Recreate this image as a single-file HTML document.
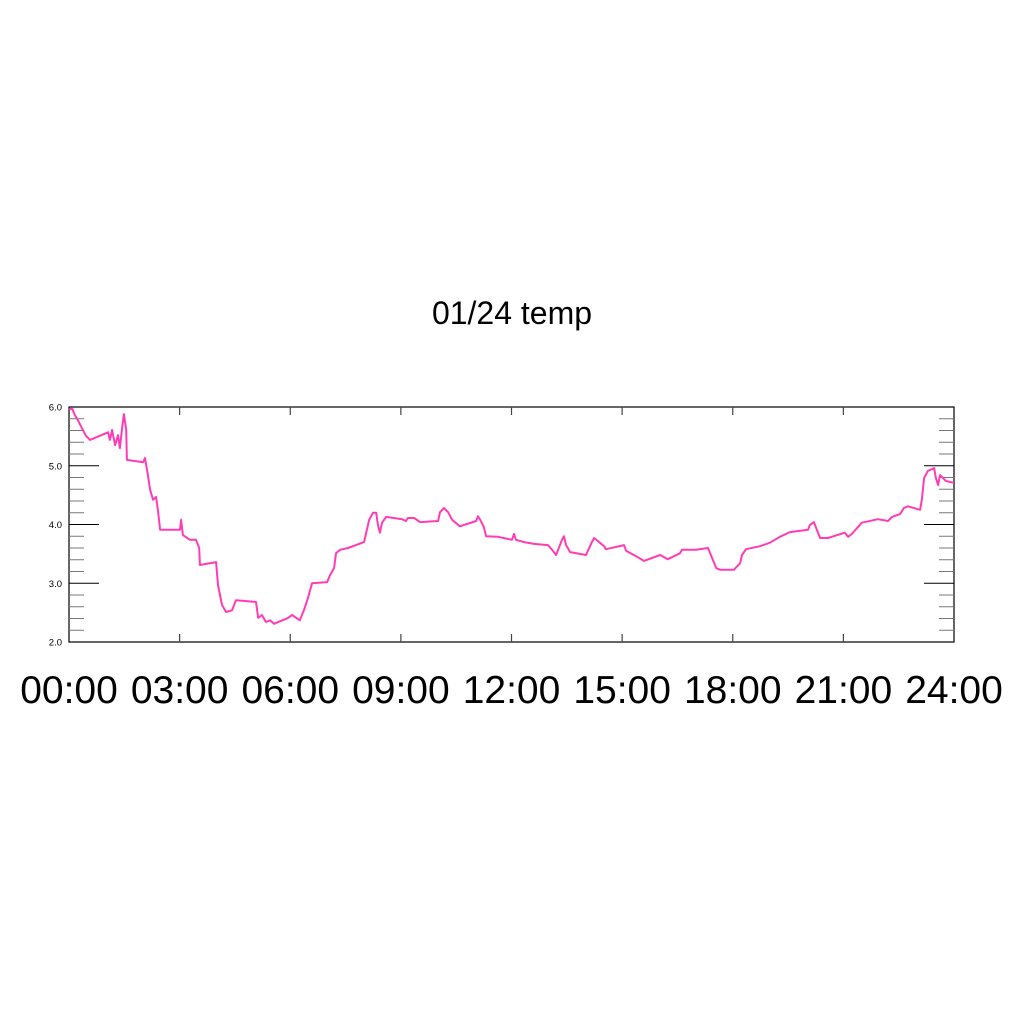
<!DOCTYPE html>
<html><head><meta charset="utf-8"><style>
html,body{margin:0;padding:0;background:#fff;width:1024px;height:1024px;overflow:hidden}
svg text{font-family:"Liberation Sans",sans-serif}
</style></head><body>
<svg id="chart" width="1024" height="1024" viewBox="0 0 1024 1024" xmlns="http://www.w3.org/2000/svg">
<rect width="1024" height="1024" fill="#fff"/>
<text x="512" y="324" font-size="32" text-anchor="middle" fill="#000">01/24 temp</text>
<g id="axes"></g>
<polyline id="series" fill="none" stroke="#ff3cb4" stroke-width="2" stroke-linejoin="round"/>
</svg>
<script>
const hours=[0.00,0.08,0.16,0.24,0.35,0.46,0.57,1.06,1.11,1.17,1.25,1.33,1.38,1.44,1.49,1.55,1.57,2.01,2.06,2.14,2.20,2.28,2.36,2.41,2.47,3.01,3.04,3.09,3.28,3.44,3.53,3.55,3.99,4.04,4.15,4.26,4.42,4.53,5.07,5.13,5.23,5.34,5.45,5.56,5.94,6.05,6.26,6.37,6.48,6.59,7.00,7.08,7.19,7.24,7.35,7.57,8.00,8.14,8.24,8.33,8.38,8.43,8.49,8.60,9.03,9.14,9.19,9.36,9.52,10.01,10.06,10.17,10.28,10.39,10.60,11.04,11.09,11.15,11.25,11.31,11.63,12.01,12.07,12.12,12.34,12.61,12.99,13.10,13.21,13.37,13.42,13.48,13.59,14.02,14.18,14.24,14.51,14.56,15.05,15.11,15.38,15.59,16.03,16.24,16.57,16.62,17.00,17.33,17.44,17.55,17.65,18.03,18.20,18.25,18.36,18.74,19.01,19.28,19.55,20.04,20.09,20.20,20.37,20.58,21.04,21.13,21.23,21.50,21.94,22.21,22.32,22.54,22.64,22.75,23.08,23.13,23.19,23.29,23.46,23.51,23.57,23.62,23.78,24.00];
const temps=[5.95,5.98,5.86,5.78,5.64,5.51,5.44,5.57,5.44,5.61,5.35,5.52,5.30,5.64,5.88,5.61,5.10,5.06,5.13,4.84,4.59,4.42,4.47,4.25,3.91,3.91,4.08,3.82,3.74,3.74,3.60,3.31,3.36,2.97,2.63,2.51,2.54,2.71,2.68,2.41,2.46,2.34,2.37,2.31,2.41,2.46,2.37,2.54,2.75,3.00,3.02,3.14,3.26,3.51,3.57,3.60,3.70,4.08,4.20,4.20,3.99,3.86,4.03,4.13,4.09,4.06,4.11,4.11,4.04,4.06,4.21,4.28,4.21,4.08,3.97,4.06,4.14,4.08,3.96,3.80,3.79,3.74,3.84,3.74,3.70,3.67,3.65,3.57,3.48,3.74,3.80,3.65,3.53,3.48,3.70,3.77,3.63,3.58,3.65,3.55,3.46,3.38,3.48,3.41,3.51,3.57,3.57,3.60,3.43,3.26,3.23,3.23,3.34,3.48,3.58,3.63,3.69,3.79,3.87,3.91,3.99,4.04,3.77,3.77,3.86,3.79,3.84,4.03,4.09,4.06,4.13,4.18,4.28,4.31,4.25,4.43,4.79,4.91,4.96,4.79,4.67,4.84,4.74,4.71];
const xTickLabels=["00:00","03:00","06:00","09:00","12:00","15:00","18:00","21:00","24:00"];
const yTickLabels=["2.0","3.0","4.0","5.0","6.0"];
const L=69,R=954,T=407,B=642;
const xs=h=>L+(R-L)*h/24;
const ys=v=>B-(B-T)*(v-2)/4;
const NS="http://www.w3.org/2000/svg";
const ax=document.getElementById('axes');
function mk(tag,attrs){const e=document.createElementNS(NS,tag);for(const k in attrs)e.setAttribute(k,attrs[k]);ax.appendChild(e);return e;}
const frame=mk('rect',{x:L,y:T,width:R-L,height:B-T,fill:'none',stroke:'#000','stroke-width':1.2});


for(let i=0;i<xTickLabels.length;i++){
  const x=xs(i*3);
  if(i>0&&i<xTickLabels.length-1){
    const t1=mk('line',{x1:x,y1:B,x2:x,y2:B-8,stroke:'#444','stroke-width':1.2});
    
    
    const t2=mk('line',{x1:x,y1:T,x2:x,y2:T+8,stroke:'#444','stroke-width':1.2});
    
    
  }
  const tx=mk('text',{x:x,y:703,'font-size':39,'text-anchor':'middle',fill:'#000'});
  tx.textContent=xTickLabels[i];
  
  
}
for(let v=2;v<=6.001;v+=0.2){
  const y=ys(v);
  const major=Math.abs(v-Math.round(v))<0.01;
  const len=major?30:15;
  if(v>2.01&&v<5.99){
    const a=mk('line',{x1:L,y1:y,x2:L+len,y2:y,stroke:major?'#000':'#777','stroke-width':1});
    
    
    const b=mk('line',{x1:R,y1:y,x2:R-len,y2:y,stroke:major?'#000':'#777','stroke-width':1});
    
    
  }
}
for(let i=0;i<yTickLabels.length;i++){
  const t=mk('text',{x:62,y:ys(2+i)+3.5,'font-size':9.5,'text-anchor':'end',fill:'#000'});
  t.textContent=yTickLabels[i];
  
  
}
document.getElementById('series').setAttribute('points',hours.map((h,i)=>xs(h).toFixed(1)+','+ys(temps[i]).toFixed(1)).join(' '));
</script>
</body></html>
